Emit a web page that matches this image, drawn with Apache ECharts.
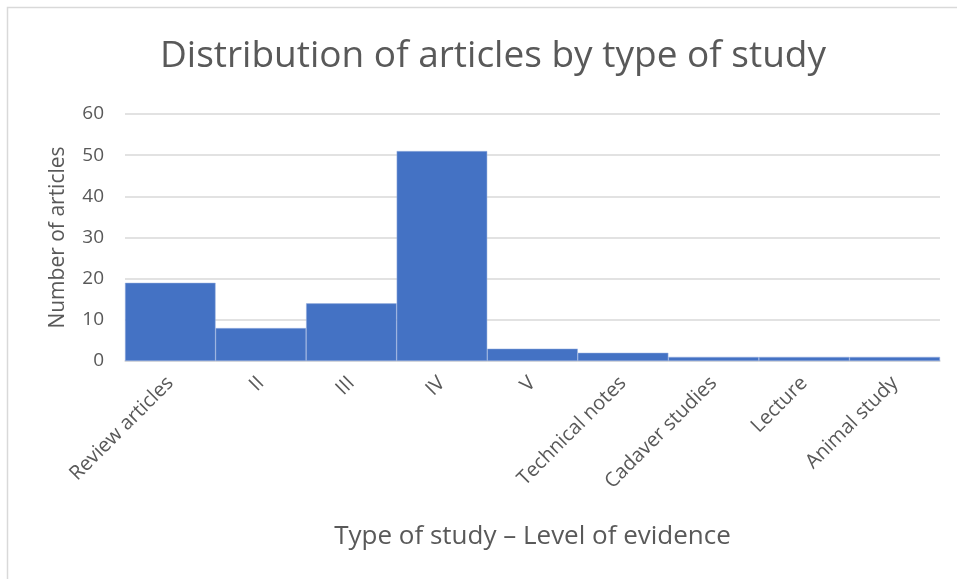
<!DOCTYPE html>
<html><head><meta charset="utf-8">
<script src="https://cdn.jsdelivr.net/npm/echarts@6/dist/echarts.min.js"></script>
<style>html,body{margin:0;padding:0;background:#fff}#c{width:957px;height:579px}</style>
</head><body><div id="c"></div>
<script>
var categories = ['Review articles','II','III','IV','V','Technical notes','Cadaver studies','Lecture','Animal study'];
var values = [19, 8, 14, 51, 3, 2, 1, 1, 1];
var yTicks = {min: 0, max: 60, interval: 10};

var chart = echarts.init(document.getElementById('c'));
chart.setOption({
  animation: false,
  backgroundColor: '#fff',
  graphic: [{type:'rect', shape:{x:7.5,y:7.5,width:1000,height:1000}, style:{fill:'none', stroke:'#d9d9d9', lineWidth:1.5}, silent:true}],
  title: {
    text: 'Distribution of articles by type of study',
    left: 488, top: 33, textAlign: 'center',
    textStyle: {fontFamily: "'Open Sans',sans-serif", fontSize: 37, fontWeight: 'normal', color: '#595959'}
  },
  grid: {left: 125, right: 17, top: 114, bottom: 218, containLabel: false},
  xAxis: {
    type: 'category', data: categories,
    name: 'Type of study \u2013 Level of evidence', nameLocation: 'middle', nameGap: 163,
    nameTextStyle: {fontFamily: "'Open Sans',sans-serif", fontSize: 26, color: '#595959'},
    axisLine: {show: true, lineStyle: {color: '#d9d9d9', width: 1.5}},
    axisTick: {show: false},
    axisLabel: {rotate: 45, interval: 0, margin: 19, fontFamily: "'Open Sans',sans-serif", fontSize: 20, color: '#595959'}
  },
  yAxis: {
    type: 'value', min: yTicks.min, max: yTicks.max, interval: yTicks.interval,
    name: 'Number of articles', nameLocation: 'middle', nameGap: 56, nameRotate: 90,
    nameTextStyle: {fontFamily: "'Open Sans',sans-serif", fontSize: 21, color: '#595959'},
    axisLine: {show: false}, axisTick: {show: false},
    axisLabel: {fontFamily: "'Open Sans',sans-serif", fontSize: 19, color: '#595959', margin: 21},
    splitLine: {lineStyle: {color: '#d9d9d9', width: 1.5}}
  },
  series: [{
    type: 'bar', data: values, barCategoryGap: '0%',
    itemStyle: {color: '#4472c4', borderColor: '#9db3e0', borderWidth: 0.5}
  }]
});
</script></body></html>
